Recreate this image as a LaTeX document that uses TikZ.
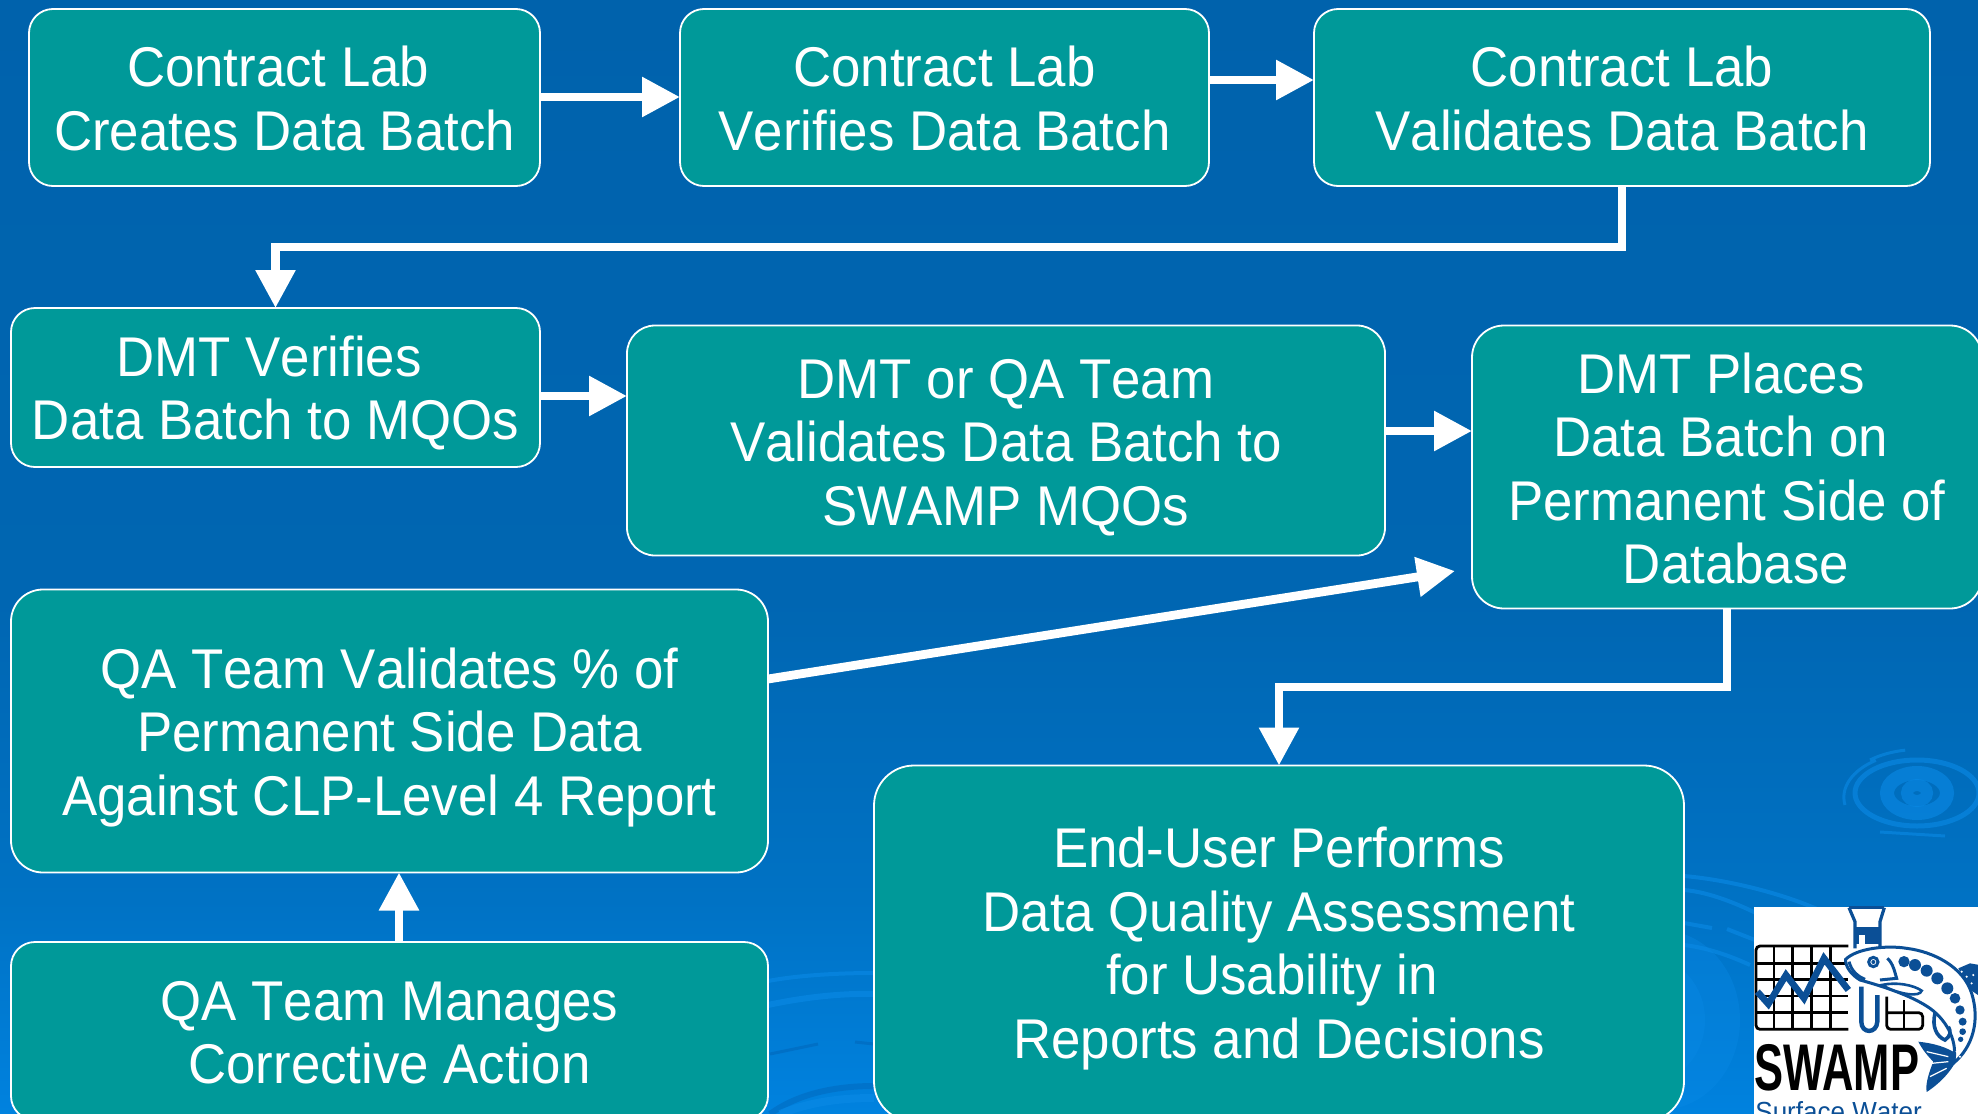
\documentclass[tikz,border=0pt]{standalone}
\usepackage{fontspec}
\setmainfont[FakeStretch=0.943,Kerning=Off]{Liberation Sans}
\newfontfamily\logofont[FakeStretch=0.66]{Liberation Sans}
\usepackage{tikz}
\usetikzlibrary{arrows.meta,positioning}
\definecolor{bg_top}{HTML}{0062AC}
\definecolor{bg_mid}{HTML}{0066B2}
\definecolor{bg_lit}{HTML}{0072C4}
\definecolor{bg_low}{HTML}{0082DF}
\definecolor{box_teal}{HTML}{009999}
\definecolor{ripple}{HTML}{0A8AE6}
\definecolor{ripple_dark}{HTML}{0068BC}
\definecolor{fish_blue}{HTML}{0B4F96}
\pgfdeclareverticalshading{bg_shade}{100bp}{color(0bp)=(bg_low); color(25bp)=(bg_low); color(34.6bp)=(bg_lit); color(48.1bp)=(bg_mid); color(75bp)=(bg_top); color(100bp)=(bg_top)}
\newcommand{\liftline}[1]{\rule{0pt}{#1pt}}
\newcommand{\padline}[1]{\rule{#1pt}{0pt}}

\begin{document}
\begin{tikzpicture}[
      x=.5pt,y=-.5pt,
      box_st/.style={
         draw=white,
         fill=box_teal,
         line width=0.9pt,
         text=white,
         inner sep=0pt,
         outer sep=0pt,
         align=center,
         rounded corners=12pt,
         font=\fontsize{28}{31.75}\selectfont},
      arrow_white/.style={
         -{Triangle[length=19pt,width=19pt]},
         draw=white,
         line width=4.4pt},
      ring_st/.style={
         draw=ripple,
         line width=2pt,
         opacity=0.6},
      grid_line/.style={
         draw=black,
         line width=1.4pt}
]
      \useasboundingbox (0,0) rectangle (1978,1114);
      \shade[shading=bg_shade] (0,0) rectangle (1978,1114);

      %ripples
      \foreach \rx/\ry/\w in {10/8/6, 30/20/7, 62/33/2.5}
        \draw[ring_st,line width=\w pt] (1917,793) ellipse ({\rx} and {\ry});
      \draw[ring_st,line width=1.5pt] (1845,805) arc (170:235:75 and 45);
      \draw[ring_st,line width=1.5pt] (1870,760) arc (-130:-100:75 and 45);
      \draw[ring_st,line width=1.5pt] (1880,832) -- (1945,836);
      \draw[ring_st] (768,981) .. controls (800,975) and (840,973) .. (874,973);
      \draw[ring_st,line width=3pt] (768,1005) .. controls (800,998) and (840,993) .. (874,994);
      \draw[ripple_dark,line width=1.5pt,opacity=.6] (770,1054) -- (818,1044);
      \draw[ripple_dark,line width=1.5pt,opacity=.6] (855,1042) -- (874,1044);
      \draw[ripple_dark,line width=3pt,opacity=.5] (770,1114) .. controls (800,1092) and (840,1086) .. (874,1086);
      \draw[ring_st,line width=4pt] (780,1114) .. controls (810,1102) and (840,1098) .. (874,1098);
      \draw[ring_st] (1684,876) .. controls (1730,880) and (1790,895) .. (1830,915);
      \draw[ring_st] (1684,890) .. controls (1710,892) and (1740,905) .. (1760,915);
      \draw[ring_st] (1684,923) -- (1712,928);
      \draw[ring_st] (1727,929) -- (1760,942);
      \draw[ring_st] (1684,945) .. controls (1710,948) and (1735,958) .. (1750,965);
      \fill[ripple,opacity=.35] (1660,1020) ellipse (80 and 90);
      \fill[ripple,opacity=.35] (1650,1020) ellipse (55 and 62);

      %top row
      \node[box_st,minimum width=255.5pt,minimum height=88.5pt] (l1) at (284.5,97.5) {\liftline{21.2}Contract Lab\padline{6.3}\\Creates Data Batch};
      \node[box_st,minimum width=264.5pt,minimum height=88.5pt,right=70pt of l1] (l2) {\liftline{21.2}Contract Lab\\Verifies Data Batch};
      \node[box_st,minimum width=308pt,minimum height=88.5pt,right=52.5pt of l2] (l3) {\liftline{21.2}Contract Lab\\Validates Data Batch};

      %dmt row
      \node[box_st,minimum width=264.5pt,minimum height=79.5pt] (m1) at (275.5,387.5) {\liftline{26}DMT Verifies\padline{6.3}\\Data Batch to MQOs};
      \node[box_st,minimum width=379pt,minimum height=115pt,rounded corners=14pt] (m2) at (1006,440.5) {\liftline{26.7}DMT or QA Team\\Validates Data Batch to\\SWAMP MQOs};
      \node[box_st,minimum width=255pt,minimum height=141.5pt,rounded corners=16pt] (m3) at (1727,467) {\liftline{22}DMT Places\padline{6}\\Data Batch on\padline{6.3}\\Permanent Side of\\\padline{9}Database};

      %qa team and end user
      \node[box_st,minimum width=378.5pt,minimum height=141.5pt,rounded corners=16pt] (q1) at (389.5,731) {\liftline{26.7}QA Team Validates \% of\\Permanent Side Data\\Against CLP-Level 4 Report};
      \node[box_st,minimum width=378.5pt,minimum height=89pt] (q2) at (389.5,1031) {\liftline{21.2}QA Team Manages\\Corrective Action};
      \node[box_st,minimum width=405pt,minimum height=178pt,rounded corners=20pt] (e) at (1279,943.5) {\liftline{25.4}End-User Performs\\Data Quality Assessment\\for Usability in\padline{7}\\Reports and Decisions};

      \coordinate (m3_in) at (1455,571);
      \coordinate (jog1) at (1000,247);
      \coordinate (jog2) at (1500,687);
      \coordinate (q1_out) at (0,679);
      \coordinate (q2_up) at (399,0);

      \foreach \i/\j/\h in {% start node/end node/height
        l1/l2/97,
        l2/l3/80,
        m1/m2/396,
        m2/m3/431}{
        \coordinate (row) at (0,\h);
        \draw[arrow_white] (\i.east |- row) -- (\j.west |- row);
      }
      \draw[arrow_white] (q1.east |- q1_out) -- (m3_in);
      \draw[arrow_white] (q2.north -| q2_up) -- (q1.south -| q2_up);

      \draw[arrow_white] (l3.south) |- (jog1) -| (m1.north);
      \draw[arrow_white] (m3.south) |- (jog2) -| (e.north);

      %logo, coordinates from a 3x crop
      \begin{scope}[shift={(1700,880)},x=.5pt/3,y=-.5pt/3]
        \fill[white] (162,80) rectangle (840,720);
        \draw[grid_line,rounded corners=2pt] (445,198) -- (168,198) -- (168,448) -- (445,448);
        \foreach \p in {222,278,335,392}
          \draw[grid_line] (\p,198) -- (\p,448);
        \foreach \p in {250,298,348,398}
          \draw[grid_line] (168,\p) -- (445,\p);
        \draw[grid_line,rounded corners=2pt] (560,350) -- (560,448) -- (668,448) -- (668,398) -- (560,398);
        \draw[grid_line] (612,360) -- (612,448);
        \draw[fish_blue,line width=3.3pt] (172,335) -- (205,372) -- (258,285) -- (312,355) -- (372,235) -- (445,330);
        %test tube
        \fill[fish_blue] (465,140) rectangle (540,192);
        \fill[white] (478,165) rectangle (495,200);
        \draw[fish_blue,line width=1.3pt] (447,83) -- (553,83);
        \draw[fish_blue,line width=1.6pt] (447,83) -- (465,125) -- (465,205);
        \draw[fish_blue,line width=1.6pt] (553,83) -- (540,125) -- (540,205);
        \draw[fish_blue,line width=2.2pt] (484,320) -- (484,425) .. controls (484,462) and (530,462) .. (532,425) -- (532,345);
        %fish
        \fill[fish_blue] (775,265) -- (810,250) -- (838,255) -- (838,348) -- (805,325) -- cycle;
        \fill[fish_blue] (655,485) .. controls (700,490) and (740,500) .. (775,525) .. controls (760,570) and (720,610) .. (680,636) .. controls (675,610) and (690,570) .. (700,545) .. controls (680,525) and (665,505) .. cycle;
        \draw[white,line width=.6pt] (680,515) -- (745,530);
        \draw[white,line width=.6pt] (695,550) -- (745,545);
        \draw[white,line width=.6pt] (690,590) -- (740,565);
        \draw[fish_blue,fill=white,line width=1.5pt] (437,238) .. controls (470,205) and (560,195) .. (620,205) .. controls (700,215) and (790,260) .. (815,340) .. controls (840,420) and (820,500) .. (760,550) .. controls (775,490) and (745,425) .. (690,385) .. controls (640,350) and (560,322) .. (480,300) .. controls (455,285) and (435,260) .. (437,238) -- cycle;
        \foreach \a/\b/\r in {612/245/17, 645/255/18, 680/272/18, 712/295/18, 742/325/18, 765/355/16, 780/390/14, 788/425/12, 788/455/10, 782/478/8}
          \fill[fish_blue] (\a,\b) circle (\r);
        \draw[fish_blue,line width=1.5pt] (520,246) circle (14);
        \fill[fish_blue] (520,246) circle (6);
        \draw[fish_blue,line width=1.5pt] (562,235) .. controls (580,250) and (585,280) .. (590,295) -- (540,300);
        \draw[fish_blue,line width=1.5pt] (447,245) .. controls (455,275) and (475,290) .. (495,298);
        \draw[fish_blue,fill=white,line width=1.3pt] (545,315) .. controls (590,305) and (640,315) .. (665,332) .. controls (660,352) and (600,345) .. cycle;
        \draw[fish_blue,line width=1.8pt] (705,400) .. controls (695,440) and (710,470) .. (735,480) .. controls (750,470) and (755,455) .. (745,440);
        \foreach \a/\b in {785/275, 800/290, 815/310, 820/285, 770/515, 780/530}
          \fill[white] (\a,\b) circle (3.5);
        \node[inner sep=0pt,anchor=base west,font=\logofont\bfseries\fontsize{33}{33}\selectfont] (swamp) at (163,632) {SWAMP};
        \node[inner sep=0pt,anchor=base west,text=fish_blue,font=\fontsize{13.8}{14}\selectfont] (surface) at (165,724) {Surface Water};
      \end{scope}
\end{tikzpicture}
\end{document}
